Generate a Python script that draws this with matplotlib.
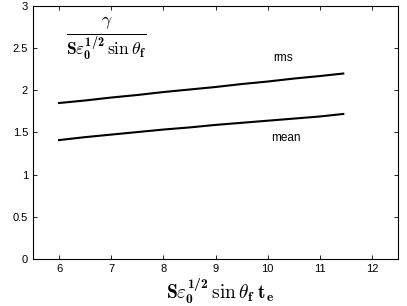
import matplotlib
matplotlib.use("Agg")
import matplotlib.pyplot as plt

plt.rcParams['mathtext.fontset'] = 'custom'
plt.rcParams['mathtext.rm'] = 'cmr10'
plt.rcParams['mathtext.it'] = 'cmmi10'
plt.rcParams['mathtext.bf'] = 'cmb10'
plt.rcParams['font.family'] = ['Liberation Sans', 'DejaVu Sans']

x_vals = [6.0, 6.5, 7.0, 7.5, 8.0, 8.5, 9.0, 9.5, 10.0, 10.5, 11.0, 11.45]
rms_vals = [1.85, 1.88, 1.915, 1.945, 1.98, 2.01, 2.04, 2.075, 2.105, 2.14, 2.17, 2.20]
mean_vals = [1.41, 1.445, 1.475, 1.505, 1.535, 1.56, 1.59, 1.615, 1.64, 1.665, 1.69, 1.72]

xticks = [6, 7, 8, 9, 10, 11, 12]
yticks = [0, 0.5, 1, 1.5, 2, 2.5, 3]
yticklabels = ['0', '0.5', '1', '1.5', '2', '2.5', '3']

fig = plt.figure(figsize=(4.07, 3.06), dpi=100)
ax = fig.add_axes([0.081, 0.154, 0.897, 0.826])
ax.plot(x_vals, rms_vals, color='black', lw=1.5)
ax.plot(x_vals, mean_vals, color='black', lw=1.5)
ax.set_xlim(5.5, 12.5)
ax.set_ylim(0, 3)
ax.set_xticks(xticks)
ax.set_xticklabels([str(t) for t in xticks])
ax.set_yticks(yticks)
ax.set_yticklabels(yticklabels)
ax.tick_params(direction='in', top=True, right=True, labelsize=8, length=3, width=0.6)
for s in ax.spines.values():
    s.set_linewidth(0.8)

ax.text(10.3, 2.38, 'rms', fontsize=8.5, ha='center', va='center')
ax.text(10.35, 1.43, 'mean', fontsize=8.5, ha='center', va='center')
ax.text(6.9, 2.62, r'$\frac{\gamma}{\mathbf{S}\varepsilon_{\mathbf{0}}^{\mathbf{1/2}}\,\sin\theta_\mathbf{f}}$',
        fontsize=18, ha='center', va='center')
ax.set_xlabel(r'$\mathbf{S}\varepsilon_{\mathbf{0}}^{\mathbf{1/2}}\,\sin\theta_\mathbf{f}\;\mathbf{t_e}$',
              fontsize=14)
ax.xaxis.set_label_coords(0.512, -0.07)
ax.xaxis.label.set_va('top')

fig.savefig('out.png', dpi=100)
